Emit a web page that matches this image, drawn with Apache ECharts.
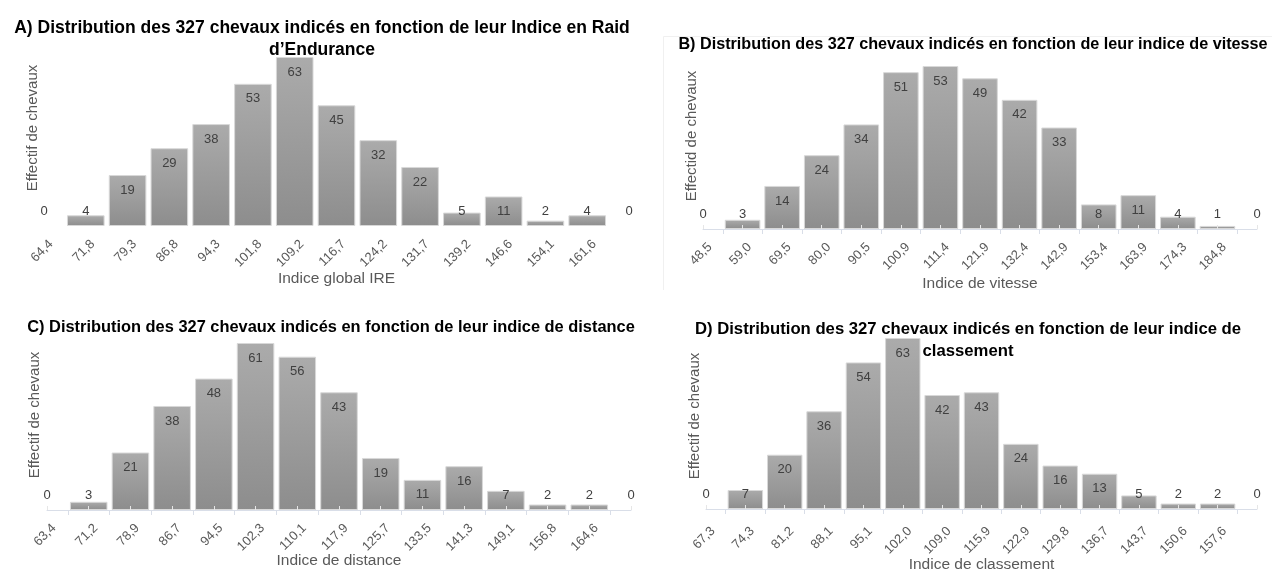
<!DOCTYPE html>
<html><head><meta charset="utf-8">
<script src="https://cdn.jsdelivr.net/npm/echarts@6/dist/echarts.min.js"></script>
<style>html,body{margin:0;padding:0;background:#fff}#c{width:1272px;height:574px}</style>
</head><body><div id="c"></div>
<script>
// ---- data ----
const catsA = ['64,4','71,8','79,3','86,8','94,3','101,8','109,2','116,7','124,2','131,7','139,2','146,6','154,1','161,6',''];
const valsA = [0,4,19,29,38,53,63,45,32,22,5,11,2,4,0];
const catsB = ['48,5','59,0','69,5','80,0','90,5','100,9','111,4','121,9','132,4','142,9','153,4','163,9','174,3','184,8',''];
const valsB = [0,3,14,24,34,51,53,49,42,33,8,11,4,1,0];
const catsC = ['63,4','71,2','78,9','86,7','94,5','102,3','110,1','117,9','125,7','133,5','141,3','149,1','156,8','164,6',''];
const valsC = [0,3,21,38,48,61,56,43,19,11,16,7,2,2,0];
const catsD = ['67,3','74,3','81,2','88,1','95,1','102,0','109,0','115,9','122,9','129,8','136,7','143,7','150,6','157,6',''];
const valsD = [0,7,20,36,54,63,42,43,24,16,13,5,2,2,0];

const titleA = 'A) Distribution des 327 chevaux indicés en fonction de leur Indice en Raid\nd’Endurance';
const titleB = 'B) Distribution des 327 chevaux indicés en fonction de leur indice de vitesse';
const titleC = 'C) Distribution des 327 chevaux indicés en fonction de leur indice de distance';
const titleD = 'D) Distribution des 327 chevaux indicés en fonction de leur indice de\nclassement';
const xNameA = 'Indice global IRE';
const xNameB = 'Indice de vitesse';
const xNameC = 'Indice de distance';
const xNameD = 'Indice de classement';
const yNameA = 'Effectif de chevaux';
const yNameB = 'Effectid de chevaux';
const yNameC = 'Effectif de chevaux';
const yNameD = 'Effectif de chevaux';

// ---- layout / style ----
const FONT = '"Liberation Sans", Arial, sans-serif';
const panels = [
  {cats: catsA, vals: valsA, max: 63, grid: {left: 44, right: 643, top: 57, bottom: 348}, xName: xNameA, nameGap: 45, line: false,
   title: titleA, tSize: 17.5, tx: 322, ty: 17, yName: yNameA, yx: 33, yy: 128},
  {cats: catsB, vals: valsB, max: 53, grid: {left: 703, right: 15, top: 66, bottom: 345}, xName: xNameB, nameGap: 47, line: true,
   title: titleB, tSize: 16.2, tx: 973, ty: 34, yName: yNameB, yx: 692, yy: 136},
  {cats: catsC, vals: valsC, max: 61, grid: {left: 47, right: 641, top: 343, bottom: 64}, xName: xNameC, nameGap: 43, line: true,
   title: titleC, tSize: 16.4, tx: 331, ty: 316, yName: yNameC, yx: 35, yy: 415},
  {cats: catsD, vals: valsD, max: 63, grid: {left: 706, right: 15, top: 338, bottom: 61}, xName: xNameD, nameGap: 48, line: true,
   title: titleD, tSize: 16.7, tx: 968, ty: 318, yName: yNameD, yx: 695, yy: 416}
];
const LABEL_SHIFT = 7;

const barColor = new echarts.graphic.LinearGradient(0, 0, 0, 1, [
  {offset: 0, color: '#ababab'}, {offset: 1, color: '#8d8d8d'}
]);

function labelLayout(params) {
  const r = params.rect;
  const top = Math.min(r.y, r.y + r.height);
  const bottom = Math.max(r.y, r.y + r.height);
  return {x: r.x + r.width / 2, y: Math.min(top + 15, bottom - 15), align: 'center', verticalAlign: 'middle'};
}

const grids = [], xAxes = [], yAxes = [], series = [], graphics = [];
panels.forEach((p, i) => {
  grids.push(Object.assign({containLabel: false}, p.grid));
});
panels.forEach((p, i) => {
  grids.push({containLabel: false, left: p.grid.left + LABEL_SHIFT, right: p.grid.right - LABEL_SHIFT,
              top: p.grid.top, bottom: p.grid.bottom});
});
panels.forEach((p, i) => {
  // main axis (bars)
  xAxes.push({
    gridIndex: i, type: 'category', data: p.cats, boundaryGap: false, z: 5,
    axisLine: {show: p.line, lineStyle: {color: '#d9dee8', width: 1}},
    axisTick: {show: p.line, inside: true, length: 4, interval: 0, lineStyle: {color: '#e6e6e6'}},
    axisLabel: {show: false},
    splitLine: {show: false},
    name: p.xName, nameLocation: 'middle', nameGap: p.nameGap,
    nameTextStyle: {color: '#595959', fontSize: 15.5, fontFamily: FONT}
  });
  // boundary ticks between bars
  xAxes.push({
    gridIndex: i, type: 'category', data: p.cats.slice(0, -1), boundaryGap: true, position: 'bottom',
    axisLine: {show: false},
    axisTick: {show: p.line, alignWithLabel: true, interval: 0, length: 5, lineStyle: {color: '#d9dee8'}},
    axisLabel: {show: false}, splitLine: {show: false}
  });
  // tick labels
  xAxes.push({
    gridIndex: 4 + i, type: 'category', data: p.cats, boundaryGap: false, position: 'bottom',
    axisLine: {show: false}, axisTick: {show: false}, splitLine: {show: false},
    axisLabel: {interval: 0, rotate: 45, color: '#595959', fontSize: 13, fontFamily: FONT, margin: 16}
  });
  yAxes.push({gridIndex: i, type: 'value', min: 0, max: p.max, show: false, splitLine: {show: false}});
  series.push({
    type: 'bar', xAxisIndex: 3 * i, yAxisIndex: i,
    data: p.vals.map(v => v === 0 ? {value: v, itemStyle: {borderColor: 'rgba(0,0,0,0)', color: 'rgba(0,0,0,0)'}} : v),
    barCategoryGap: '10%',
    itemStyle: {color: barColor, borderColor: '#d8d8d8', borderWidth: 1},
    label: {show: true, position: 'insideTop', color: '#404040', fontSize: 13, fontFamily: FONT},
    labelLayout: labelLayout,
    silent: true, animation: false
  });
  graphics.push({
    type: 'text', x: p.tx, y: p.ty,
    style: {text: p.title, align: 'center', verticalAlign: 'top', fontSize: p.tSize, fontWeight: 'bold',
            fontFamily: FONT, fill: '#000', lineHeight: 22}
  });
  graphics.push({
    type: 'text', x: p.yx, y: p.yy, rotation: Math.PI / 2,
    style: {text: p.yName, align: 'center', verticalAlign: 'middle', fontSize: 15, fontFamily: FONT, fill: '#595959'}
  });
});
panels.forEach((p, i) => {
  yAxes.push({gridIndex: 4 + i, type: 'value', min: 0, max: p.max, show: false, splitLine: {show: false}});
});
graphics.push({
  type: 'polyline', silent: true,
  shape: {points: [[663.5, 290], [663.5, 36.5], [1272, 36.5]]},
  style: {stroke: '#f0f0f0', fill: null, lineWidth: 1}
});

const chart = echarts.init(document.getElementById('c'), null, {renderer: 'canvas'});
chart.setOption({
  animation: false,
  backgroundColor: '#ffffff',
  grid: grids, xAxis: xAxes, yAxis: yAxes, series: series, graphic: graphics
});
</script>
</body></html>
